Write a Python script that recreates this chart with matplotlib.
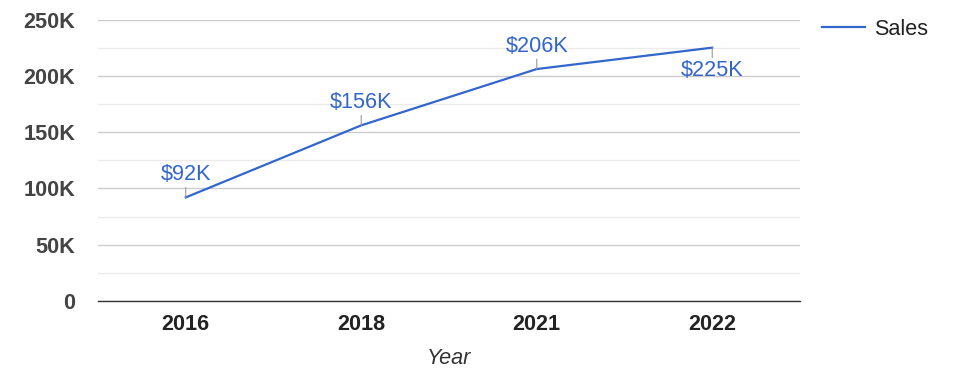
import matplotlib
matplotlib.use("Agg")
import matplotlib.pyplot as plt
from matplotlib.ticker import MultipleLocator

years = ["2016", "2018", "2021", "2022"]
sales = [92000, 156000, 206000, 225000]
labels = ["$92K", "$156K", "$206K", "$225K"]
label_pos = ["above", "above", "above", "below"]
yticks = [0, 50000, 100000, 150000, 200000, 250000]
ytick_labels = ["0", "50K", "100K", "150K", "200K", "250K"]

plt.rcParams['font.family'] = ['Liberation Sans', 'DejaVu Sans']

fig = plt.figure(figsize=(9.75, 3.78), dpi=100)
ax = fig.add_axes([98/975, 1-301/378, 702/975, (301-19.5)/378])

blue = "#3366cc"
fs = 15.6
x = list(range(len(years)))
line, = ax.plot(x, sales, color=blue, lw=1.6, label="Sales", zorder=3,
                solid_joinstyle='round')

ax.set_xlim(-0.5, len(years)-0.5)
ax.set_ylim(0, 250000)
ax.set_yticks(yticks)
ax.set_yticklabels(ytick_labels)
ax.yaxis.set_minor_locator(MultipleLocator(25000))
ax.set_xticks(x)
ax.set_xticklabels(years)

ax.grid(which='major', axis='y', color='#cccccc', lw=1)
ax.grid(which='minor', axis='y', color='#ebebeb', lw=1)
ax.set_axisbelow(True)
for s in ['top', 'right', 'left']:
    ax.spines[s].set_visible(False)
ax.spines['bottom'].set_color('#333333')
ax.spines['bottom'].set_linewidth(1)
ax.spines['bottom'].set_zorder(4)

ax.tick_params(axis='y', which='both', length=0, pad=16.5, labelsize=fs, labelcolor='#444444')
ax.tick_params(axis='x', which='both', length=0, pad=9.5, labelsize=fs, labelcolor='#222222')
for t in ax.get_yticklabels() + ax.get_xticklabels():
    t.set_fontweight('bold')

ax.set_xlabel("Year", fontsize=fs, style='italic', color='#333333', labelpad=9)

for xi, yi, lab, pos in zip(x, sales, labels, label_pos):
    d = 1 if pos == "above" else -1
    ax.annotate("", xy=(xi, yi), xytext=(0, 10*d), textcoords='offset pixels',
                arrowprops=dict(arrowstyle='-', color='#999999', lw=0.8,
                                shrinkA=0, shrinkB=0))
    ax.annotate(lab, xy=(xi, yi), xytext=(0, 23*d), textcoords='offset pixels',
                ha='center', va='center', fontsize=fs, color=blue)

leg = fig.legend(handles=[line], loc='center left',
                 bbox_to_anchor=(822/975, 1-29.5/378), frameon=False,
                 fontsize=fs, handlelength=2.0, handletextpad=0.4,
                 borderpad=0, borderaxespad=0)
for t in leg.get_texts():
    t.set_color('#222222')

fig.savefig("out.png", dpi=100)
